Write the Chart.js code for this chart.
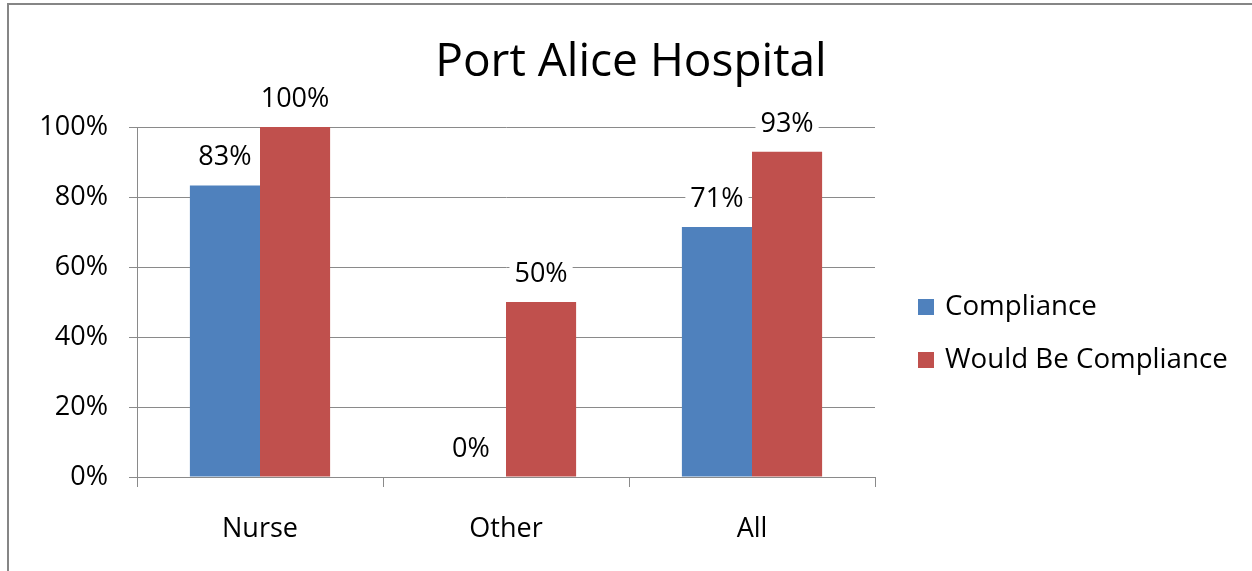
<!DOCTYPE html>
<html>
<head>
<meta charset="utf-8">
<script src="https://cdn.jsdelivr.net/npm/chart.js@4.4.0/dist/chart.umd.min.js"></script>
<style>
  html, body { margin: 0; padding: 0; background: #fff; }
  #wrap { position: relative; width: 1252px; height: 571px; overflow: hidden; }
  #frame { position: absolute; left: 7px; top: 3px; width: 1300px; height: 600px;
           border-left: 2px solid #868686; border-top: 2px solid #868686; box-sizing: border-box; }
  canvas { position: absolute; left: 0; top: 0; }
</style>
</head>
<body>
<div id="wrap">
  <div id="frame"></div>
  <canvas id="chart" width="1252" height="571"></canvas>
</div>
<script>
const TITLE      = 'Port Alice Hospital';
const CATEGORIES = ['Nurse', 'Other', 'All'];
const COMPLIANCE = [83.3, 0, 71.4];
const WOULD_BE   = [100, 50, 92.9];
const Y_TICKS    = [0, 20, 40, 60, 80, 100];

const BLUE  = '#4F81BD';
const RED   = '#C0504D';
const LINE  = '#8a8a8a';
const FONT  = "'Open Sans', sans-serif";
const TEXT  = '#000';

// title, value labels and legend drawn straight onto the canvas
const extras = {
  id: 'extras',
  afterDatasetsDraw(chart) {
    const ctx = chart.ctx;
    ctx.save();

    // value labels with white box behind
    ctx.font = `27px ${FONT}`;
    ctx.textAlign = 'center';
    ctx.textBaseline = 'middle';
    chart.data.datasets.forEach((ds, di) => {
      chart.getDatasetMeta(di).data.forEach((bar, i) => {
        const txt = Math.round(ds.data[i]) + '%';
        const w = ctx.measureText(txt).width;
        const y = bar.y - 29;
        ctx.fillStyle = '#fff';
        ctx.fillRect(bar.x - w / 2 - 5, y - 15, w + 10, 30);
        ctx.fillStyle = TEXT;
        ctx.fillText(txt, bar.x, y + 1);
      });
    });

    // title
    ctx.font = `46px ${FONT}`;
    ctx.textBaseline = 'alphabetic';
    ctx.fillText(TITLE, 631, 76);

    // legend
    ctx.font = `27.7px ${FONT}`;
    ctx.textAlign = 'left';
    ctx.textBaseline = 'middle';
    chart.data.datasets.forEach((ds, di) => {
      const cy = 307 + di * 53;
      ctx.fillStyle = ds.backgroundColor;
      ctx.fillRect(918, cy - 8, 16, 16);
      ctx.fillStyle = TEXT;
      ctx.fillText(ds.label, 945, cy);
    });

    ctx.restore();
  }
};

new Chart(document.getElementById('chart'), {
  type: 'bar',
  data: {
    labels: CATEGORIES,
    datasets: [
      { label: 'Compliance', data: COMPLIANCE, backgroundColor: BLUE },
      { label: 'Would Be Compliance', data: WOULD_BE, backgroundColor: RED },
    ],
  },
  options: {
    responsive: false,
    animation: false,
    layout: { padding: { top: 127, right: 377, bottom: 0, left: 0 } },
    datasets: { bar: { categoryPercentage: 0.57, barPercentage: 1.0 } },
    plugins: { legend: { display: false }, title: { display: false }, tooltip: { enabled: false } },
    scales: {
      x: {
        grid: { drawOnChartArea: false, color: LINE, tickLength: 10, tickColor: LINE },
        border: { color: LINE },
        ticks: { color: TEXT, font: { family: FONT, size: 27 }, padding: 26 },
        afterFit: s => { s.height = 94; },
      },
      y: {
        min: 0, max: 100,
        afterBuildTicks: s => { s.ticks = Y_TICKS.map(v => ({ value: v })); },
        grid: { color: LINE, tickLength: 8, tickColor: LINE },
        border: { color: LINE },
        ticks: { color: TEXT, font: { family: FONT, size: 27 }, padding: 21, callback: v => v + '%' },
        afterFit: s => { s.width = 137; },
      },
    },
  },
  plugins: [extras],
});
</script>
</body>
</html>
